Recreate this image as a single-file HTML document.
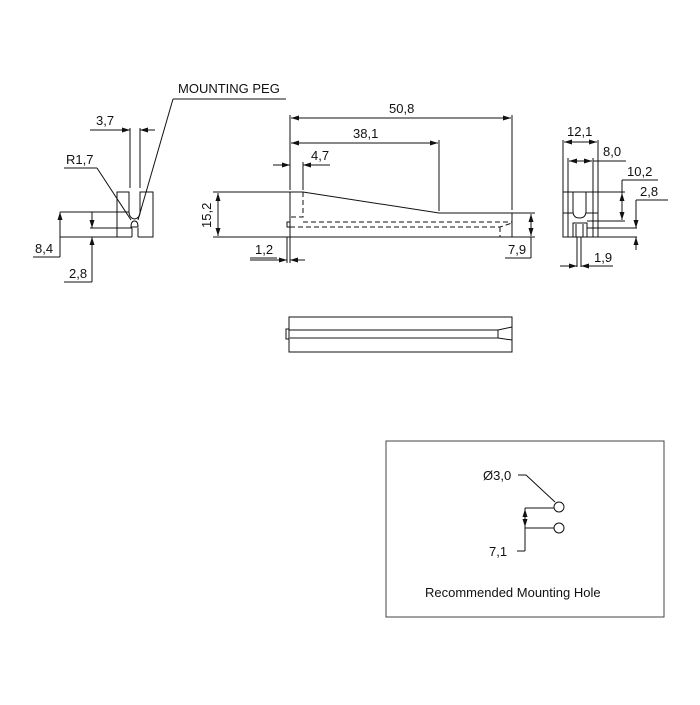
<!DOCTYPE html>
<html><head><meta charset="utf-8"><style>
html,body{margin:0;padding:0;background:#fff;}
svg text{font-family:"Liberation Sans",sans-serif;font-size:13px;fill:#111;}
</style></head><body>
<svg width="700" height="700" viewBox="0 0 700 700" xmlns="http://www.w3.org/2000/svg">
<defs>
<marker id="a" markerWidth="8" markerHeight="6" refX="8" refY="3" orient="auto" markerUnits="userSpaceOnUse"><path d="M0,0.5 L8,3 L0,5.5 z" fill="#111"/></marker>
</defs>
<g stroke="#111" stroke-width="1" fill="none">
<!-- LEFT VIEW -->
<path d="M132,237 H117 V192 H129 V212 Q129,218 134.5,219 Q140,218 140,212 V192 H153 V237 H138"/>
<line x1="132" y1="228" x2="132" y2="237"/>
<line x1="138" y1="228" x2="138" y2="237"/>
<path d="M131,227 Q131,221 134.5,221 Q138,221 138,227 Z"/>
<line x1="60" y1="212" x2="129" y2="212"/>
<line x1="90" y1="228" x2="132" y2="228"/>
<line x1="60" y1="237" x2="117" y2="237"/>
<line x1="130" y1="128" x2="130" y2="188"/>
<line x1="140" y1="128" x2="140" y2="188"/>
<line x1="90" y1="130" x2="130" y2="130" marker-end="url(#a)"/>
<line x1="155" y1="130" x2="140" y2="130" marker-end="url(#a)"/>
<line x1="64" y1="168" x2="97" y2="168"/>
<line x1="97" y1="168" x2="131" y2="220"/>
<line x1="173" y1="99" x2="286" y2="99"/>
<line x1="173" y1="99" x2="138" y2="220"/>
<line x1="60" y1="257" x2="60" y2="212" marker-end="url(#a)"/>
<line x1="33" y1="257" x2="60" y2="257"/>
<line x1="92" y1="212" x2="92" y2="228" marker-end="url(#a)"/>
<line x1="92" y1="282" x2="92" y2="237" marker-end="url(#a)"/>
<line x1="64" y1="282" x2="92" y2="282"/>
<!-- MIDDLE SIDE VIEW -->
<path d="M290,192 H303 L439,213 H512 V237 H290 Z"/>
<rect x="287" y="222" width="3" height="5"/>
<path d="M303,192 V217 H290" stroke-dasharray="5,3"/>
<line x1="303" y1="222" x2="512" y2="222" stroke-dasharray="5,3"/>
<path d="M290,227 H500 L512,223 M500,227 V237" stroke-dasharray="5,3"/>
<line x1="213" y1="192" x2="290" y2="192"/>
<line x1="213" y1="237" x2="290" y2="237"/>
<line x1="218" y1="215" x2="218" y2="193" marker-end="url(#a)"/>
<line x1="218" y1="215" x2="218" y2="236" marker-end="url(#a)"/>
<line x1="287" y1="237" x2="287" y2="263"/>
<line x1="290" y1="237" x2="290" y2="263"/>
<line x1="250" y1="260" x2="287" y2="260" marker-end="url(#a)"/>
<line x1="250" y1="258" x2="277" y2="258"/>
<line x1="305" y1="260" x2="290" y2="260" marker-end="url(#a)"/>
<line x1="290" y1="115" x2="290" y2="190"/>
<line x1="512" y1="115" x2="512" y2="210"/>
<line x1="401" y1="118" x2="291" y2="118" marker-end="url(#a)"/>
<line x1="401" y1="118" x2="511" y2="118" marker-end="url(#a)"/>
<line x1="439" y1="140" x2="439" y2="211"/>
<line x1="365" y1="143" x2="291" y2="143" marker-end="url(#a)"/>
<line x1="365" y1="143" x2="438" y2="143" marker-end="url(#a)"/>
<line x1="303" y1="162" x2="303" y2="190"/>
<line x1="273" y1="165" x2="290" y2="165" marker-end="url(#a)"/>
<line x1="330" y1="165" x2="303" y2="165" marker-end="url(#a)"/>
<line x1="512" y1="213" x2="535" y2="213"/>
<line x1="512" y1="237" x2="535" y2="237"/>
<line x1="531" y1="225" x2="531" y2="214" marker-end="url(#a)"/>
<line x1="531" y1="225" x2="531" y2="236" marker-end="url(#a)"/>
<line x1="531" y1="237" x2="531" y2="258"/>
<line x1="505" y1="258" x2="531" y2="258"/>
<!-- RIGHT VIEW -->
<rect x="563" y="192" width="35" height="45"/>
<line x1="568" y1="192" x2="568" y2="237"/>
<line x1="593" y1="192" x2="593" y2="237"/>
<path d="M573,192 V211 Q573,218 579.5,218 Q586,218 586,211 V192"/>
<line x1="563" y1="213" x2="573" y2="213"/>
<line x1="586" y1="213" x2="598" y2="213"/>
<path d="M573,223 H587 V237 H573 Z"/>
<line x1="576" y1="224" x2="576" y2="237"/>
<line x1="583" y1="224" x2="583" y2="237"/>
<line x1="577" y1="237" x2="577" y2="267"/>
<line x1="581" y1="237" x2="581" y2="267"/>
<line x1="563" y1="140" x2="563" y2="192"/>
<line x1="598" y1="140" x2="598" y2="192"/>
<line x1="580" y1="142" x2="564" y2="142" marker-end="url(#a)"/>
<line x1="580" y1="142" x2="597" y2="142" marker-end="url(#a)"/>
<line x1="568" y1="158" x2="568" y2="192"/>
<line x1="593" y1="158" x2="593" y2="192"/>
<line x1="580" y1="161" x2="569" y2="161" marker-end="url(#a)"/>
<line x1="580" y1="161" x2="592" y2="161" marker-end="url(#a)"/>
<line x1="593" y1="161" x2="626" y2="161"/>
<line x1="598" y1="192" x2="625" y2="192"/>
<line x1="587" y1="221" x2="625" y2="221"/>
<line x1="622" y1="180" x2="658" y2="180"/>
<line x1="622" y1="180" x2="622" y2="193"/>
<line x1="622" y1="207" x2="622" y2="193" marker-end="url(#a)"/>
<line x1="622" y1="207" x2="622" y2="220" marker-end="url(#a)"/>
<line x1="587" y1="228" x2="637" y2="228"/>
<line x1="598" y1="237" x2="637" y2="237"/>
<line x1="636" y1="200" x2="668" y2="200"/>
<line x1="636" y1="200" x2="636" y2="228" marker-end="url(#a)"/>
<line x1="636" y1="250" x2="636" y2="237" marker-end="url(#a)"/>
<line x1="560" y1="266" x2="577" y2="266" marker-end="url(#a)"/>
<line x1="613" y1="266" x2="581" y2="266" marker-end="url(#a)"/>
<!-- TOP VIEW -->
<rect x="289" y="317" width="223" height="35"/>
<rect x="286" y="329" width="3" height="10"/>
<line x1="289" y1="330" x2="498" y2="330"/>
<line x1="289" y1="338" x2="498" y2="338" stroke="#666" stroke-width="1.6"/>
<path d="M498,330 V338 M498,330 L512,327 M498,338 L512,340"/>
<!-- BOX -->
<rect x="386" y="441" width="278" height="176" stroke="#444"/>
<circle cx="559" cy="507" r="5"/>
<circle cx="559" cy="528" r="5"/>
<path d="M518,475 H526 L555,502"/>
<line x1="525" y1="508" x2="554" y2="508"/>
<line x1="525" y1="528" x2="554" y2="528"/>
<line x1="525" y1="508" x2="525" y2="551"/>
<line x1="517" y1="551" x2="525" y2="551"/>
<line x1="525" y1="518" x2="525" y2="509" marker-end="url(#a)"/>
<line x1="525" y1="518" x2="525" y2="527" marker-end="url(#a)"/>
</g>
<text x="178" y="93">MOUNTING PEG</text>
<text x="96" y="125">3,7</text>
<text x="66" y="164">R1,7</text>
<text x="35" y="253">8,4</text>
<text x="69" y="278">2,8</text>
<text x="211" y="228" transform="rotate(-90 211 228)">15,2</text>
<text x="255" y="254">1,2</text>
<text x="389" y="113">50,8</text>
<text x="353" y="138">38,1</text>
<text x="311" y="160">4,7</text>
<text x="508" y="254">7,9</text>
<text x="567" y="136">12,1</text>
<text x="603" y="156">8,0</text>
<text x="627" y="176">10,2</text>
<text x="640" y="196">2,8</text>
<text x="594" y="262">1,9</text>
<text x="483" y="480">Ø3,0</text>
<text x="489" y="556">7,1</text>
<text x="425" y="597">Recommended Mounting Hole</text>
</svg>
</body></html>
